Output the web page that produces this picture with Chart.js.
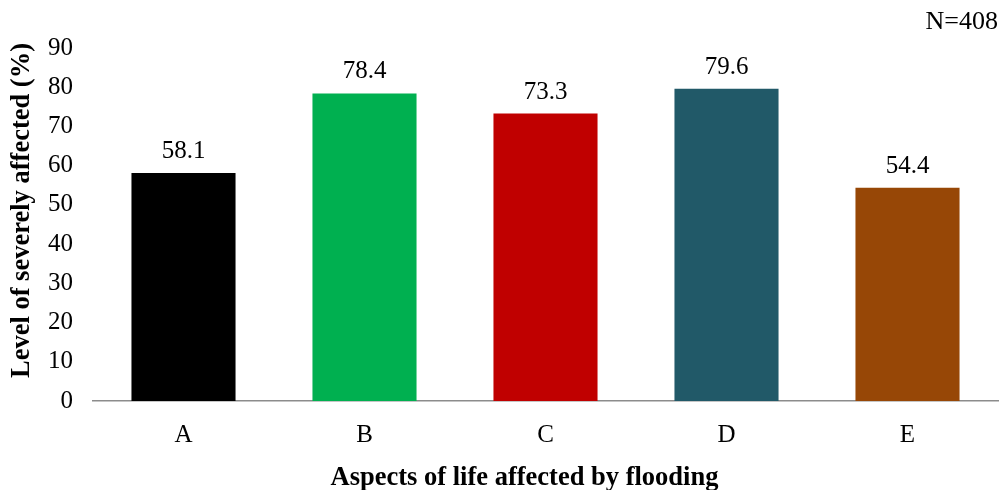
<!DOCTYPE html>
<html>
<head>
<meta charset="utf-8">
<script src="https://cdn.jsdelivr.net/npm/chart.js@4"></script>
<style>
html,body{margin:0;padding:0;background:#fff;}
#wrap{width:1003px;height:490px;}
</style>
</head>
<body>
<div id="wrap"><canvas id="c" width="1003" height="490"></canvas></div>
<script>
const categories = ["A", "B", "C", "D", "E"];
const values = [58.1, 78.4, 73.3, 79.6, 54.4];
const barColors = ["#000000", "#00B050", "#C00000", "#215968", "#974706"];
const yTicks = [0, 10, 20, 30, 40, 50, 60, 70, 80, 90];
const sampleNote = "N=408";
const xTitle = "Aspects of life affected by flooding";
const yTitle = "Level of severely affected (%)";

const serif = "'Liberation Serif', 'Times New Roman', serif";

const valueLabels = {
  id: 'valueLabels',
  afterDatasetsDraw(chart) {
    const ctx = chart.ctx;
    const meta = chart.getDatasetMeta(0);
    ctx.save();
    ctx.font = "25px " + serif;
    ctx.fillStyle = "#000";
    ctx.textAlign = "center";
    ctx.textBaseline = "alphabetic";
    meta.data.forEach((bar, i) => {
      ctx.fillText(values[i].toFixed(1), bar.x, bar.y - 15);
    });
    ctx.restore();
  }
};

// Axis titles, placed like the original (slightly left / above the plot-area centre)
const axisTitles = {
  id: 'axisTitles',
  afterDraw(chart) {
    const ctx = chart.ctx;
    const a = chart.chartArea;
    ctx.save();
    ctx.font = "bold 26.5px " + serif;
    ctx.fillStyle = "#000";
    ctx.textAlign = "center";
    ctx.textBaseline = "middle";
    ctx.fillText(xTitle, (a.left + a.right) / 2 - 21, chart.height - 12);
    ctx.translate(22, (a.top + a.bottom) / 2 - 14);
    ctx.rotate(-Math.PI / 2);
    ctx.fillText(yTitle, 0, 0);
    ctx.restore();
  }
};

new Chart(document.getElementById('c'), {
  type: 'bar',
  data: {
    labels: categories,
    datasets: [{
      data: values,
      backgroundColor: barColors,
      borderWidth: 0,
      barPercentage: 0.575,
      categoryPercentage: 1.0
    }]
  },
  options: {
    responsive: false,
    animation: false,
    layout: { padding: { top: 0, right: 5, left: 9, bottom: 0 } },
    plugins: {
      legend: { display: false },
      tooltip: { enabled: false },
      title: {
        display: true,
        text: sampleNote,
        align: 'end',
        color: '#000',
        font: { family: serif, size: 26, weight: 'normal', lineHeight: 1 },
        padding: { top: 9, bottom: 13 }
      }
    },
    scales: {
      x: {
        afterFit(axis) { axis.height = 89; },
        grid: { display: false, drawTicks: false },
        border: { display: true, color: '#8C8C8C', width: 1.5 },
        ticks: { color: '#000', font: { family: serif, size: 25, lineHeight: 1 }, padding: 22 },
        title: { display: false }
      },
      y: {
        min: 0,
        max: 90,
        afterFit(axis) { axis.width = 84; },
        afterBuildTicks(axis) { axis.ticks = yTicks.map(v => ({ value: v })); },
        grid: { display: false, drawTicks: false },
        border: { display: false },
        ticks: { color: '#000', font: { family: serif, size: 25, lineHeight: 1 }, padding: 20 },
        title: { display: false }
      }
    }
  },
  plugins: [valueLabels, axisTitles]
});
</script>
</body>
</html>
